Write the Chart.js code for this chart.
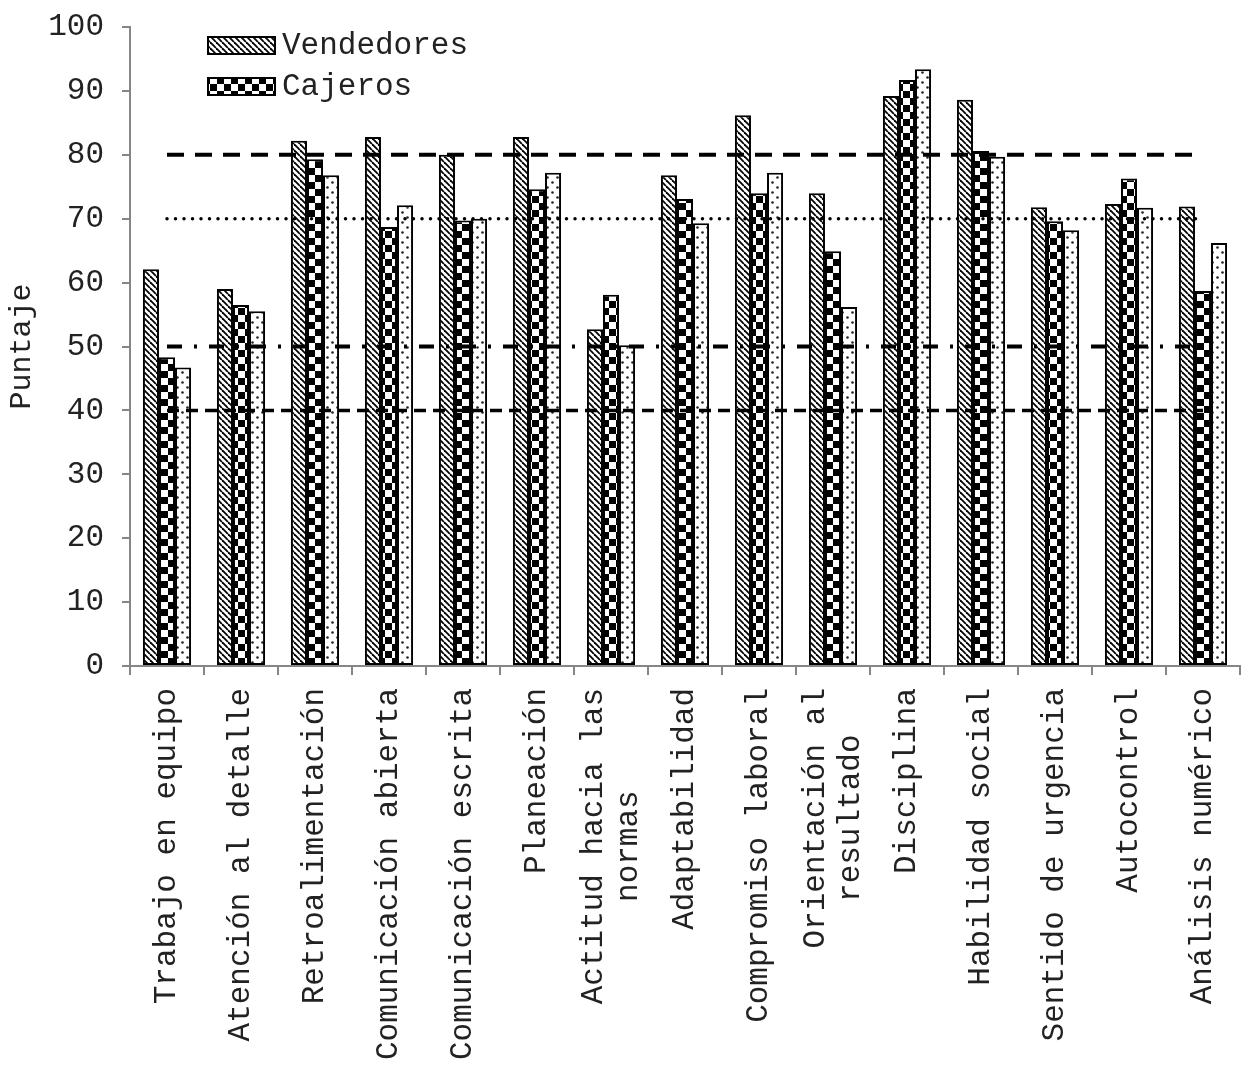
<!DOCTYPE html>
<html>
<head>
<meta charset="utf-8">
<script src="https://cdn.jsdelivr.net/npm/chart.js@4.4.0/dist/chart.umd.min.js"></script>
<style>
  html, body { margin: 0; padding: 0; background: #fff; }
</style>
</head>
<body>
<canvas id="puntajes" width="1244" height="1070"></canvas>
<script>
const categorias = [
  'Trabajo en equipo',
  'Atención al detalle',
  'Retroalimentación',
  'Comunicación abierta',
  'Comunicación escrita',
  'Planeación',
  ['Actitud hacia las', 'normas'],
  'Adaptabilidad',
  'Compromiso laboral',
  ['Orientación al', 'resultado'],
  'Disciplina',
  'Habilidad social',
  'Sentido de urgencia',
  'Autocontrol',
  'Análisis numérico'
];
const vendedores  = [62.1, 59.0, 82.2, 82.8, 80.0, 82.8, 52.7, 76.8, 86.2, 74.0, 89.2, 88.6, 71.8, 72.3, 71.9];
const cajeros     = [48.3, 56.5, 79.3, 68.7, 69.7, 74.6, 58.1, 73.1, 74.0, 64.9, 91.7, 80.6, 69.6, 76.3, 58.7];
const tercerGrupo = [46.7, 55.5, 76.8, 72.1, 70.0, 77.2, 50.2, 69.3, 77.2, 56.2, 93.4, 79.7, 68.2, 71.7, 66.2];

const yMin = 0, yMax = 100, yPaso = 10;

// horizontal reference levels
const nivel80 = 80, nivel70 = 70, nivel50 = 50, nivel40 = 40;

const FUENTE = "'Courier New', 'Liberation Mono', monospace";
const GRIS = '#868686';
const TEXTO = '#222';

// ---- fill patterns ----
function rayado() {
  const c = document.createElement('canvas');
  c.width = 6; c.height = 6;
  const g = c.getContext('2d');
  g.fillStyle = '#fff'; g.fillRect(0, 0, 6, 6);
  g.strokeStyle = '#000'; g.lineWidth = 1.8;
  for (let x = -6; x <= 6; x += 6) {
    g.beginPath(); g.moveTo(x, 0); g.lineTo(x + 6, 6); g.stroke();
  }
  return g.createPattern(c, 'repeat');
}

function ajedrez() {
  const c = document.createElement('canvas');
  c.width = 14; c.height = 14;
  const g = c.getContext('2d');
  g.fillStyle = '#fff'; g.fillRect(0, 0, 14, 14);
  g.fillStyle = '#000';
  g.fillRect(0, 0, 7, 7);
  g.fillRect(7, 7, 7, 7);
  return g.createPattern(c, 'repeat');
}

function puntos() {
  const c = document.createElement('canvas');
  c.width = 10; c.height = 10;
  const g = c.getContext('2d');
  g.fillStyle = '#fff'; g.fillRect(0, 0, 10, 10);
  g.fillStyle = '#222';
  [[2.5, 2.5], [7.5, 7.5]].forEach(([x, y]) => {
    g.beginPath(); g.arc(x, y, 1.3, 0, Math.PI * 2); g.fill();
  });
  return g.createPattern(c, 'repeat');
}

const patRayado = rayado();
const patAjedrez = ajedrez();
const patPuntos = puntos();

function barra(label, data, fill) {
  return {
    type: 'bar',
    label, data,
    backgroundColor: fill,
    borderColor: '#000',
    borderWidth: 2,
    borderSkipped: false,
    categoryPercentage: 0.65,
    barPercentage: 1.0,
    order: 2
  };
}

function referencia(valor, dash, width, cap) {
  return {
    type: 'line',
    label: '',
    data: categorias.map(() => valor),
    borderColor: '#000',
    borderWidth: width,
    borderDash: dash,
    borderCapStyle: cap || 'butt',
    pointRadius: 0,
    fill: false,
    order: 0
  };
}

// legend inside the plot, top left
const leyenda = {
  id: 'leyenda',
  afterDraw(chart) {
    const ctx = chart.ctx;
    const items = [0, 1].map(i => chart.data.datasets[i]);
    ctx.save();
    ctx.font = '31px ' + FUENTE;
    ctx.textBaseline = 'middle';
    items.forEach((ds, i) => {
      const y = 37 + i * 41;
      ctx.fillStyle = ds.backgroundColor;
      ctx.fillRect(208, y, 67, 17);
      ctx.strokeStyle = '#000';
      ctx.lineWidth = 2;
      ctx.strokeRect(208, y, 67, 17);
      ctx.fillStyle = TEXTO;
      ctx.fillText(ds.label, 282, y + 9);
    });
    ctx.restore();
  }
};

// rotated category labels; multi-line labels are centred on each other
const etiquetasX = {
  id: 'etiquetasX',
  afterDraw(chart) {
    const ctx = chart.ctx;
    const xs = chart.scales.x;
    const top = chart.chartArea.bottom + 22;
    const alto = 35;
    ctx.save();
    ctx.font = '31px ' + FUENTE;
    ctx.fillStyle = TEXTO;
    ctx.textAlign = 'center';
    ctx.textBaseline = 'middle';
    categorias.forEach((cat, i) => {
      const lineas = Array.isArray(cat) ? cat : [cat];
      const w = Math.max(...lineas.map(l => ctx.measureText(l).width));
      ctx.save();
      ctx.translate(xs.getPixelForValue(i), top);
      ctx.rotate(-Math.PI / 2);
      lineas.forEach((l, j) => {
        ctx.fillText(l, -w / 2, (j - (lineas.length - 1) / 2) * alto);
      });
      ctx.restore();
    });
    ctx.restore();
  }
};

new Chart(document.getElementById('puntajes'), {
  data: {
    labels: categorias,
    datasets: [
      barra('Vendedores', vendedores, patRayado),
      barra('Cajeros', cajeros, patAjedrez),
      barra('', tercerGrupo, patPuntos),
      referencia(nivel80, [17, 11], 4),
      referencia(nivel70, [0, 8.5], 3.5, 'round'),
      referencia(nivel50, [15, 12, 3, 12], 4),
      referencia(nivel40, [12, 7], 3.5)
    ]
  },
  options: {
    responsive: false,
    animation: false,
    devicePixelRatio: 1,
    layout: { padding: { top: 27, right: 4, left: 0, bottom: 0 } },
    plugins: {
      legend: { display: false },
      tooltip: { enabled: false }
    },
    scales: {
      x: {
        grid: { drawOnChartArea: false, drawTicks: true, tickLength: 9, color: GRIS, lineWidth: 2, offset: true },
        border: { color: GRIS, width: 2 },
        ticks: { display: false, autoSkip: false },
        afterFit(scale) { scale.height = 404; }
      },
      y: {
        min: yMin,
        max: yMax,
        grid: { drawOnChartArea: false, drawTicks: true, tickLength: 8, color: GRIS, lineWidth: 2 },
        border: { color: GRIS, width: 2 },
        ticks: {
          stepSize: yPaso,
          color: TEXTO,
          font: { family: FUENTE, size: 31 },
          padding: 18
        },
        title: {
          display: true,
          text: 'Puntaje',
          color: TEXTO,
          font: { family: FUENTE, size: 30 },
          padding: { top: 4, bottom: 0 }
        },
        afterFit(scale) {
          scale.width = 130;
          scale.paddingTop = 0;
          scale.paddingBottom = 0;
        }
      }
    }
  },
  plugins: [leyenda, etiquetasX]
});
</script>
</body>
</html>
